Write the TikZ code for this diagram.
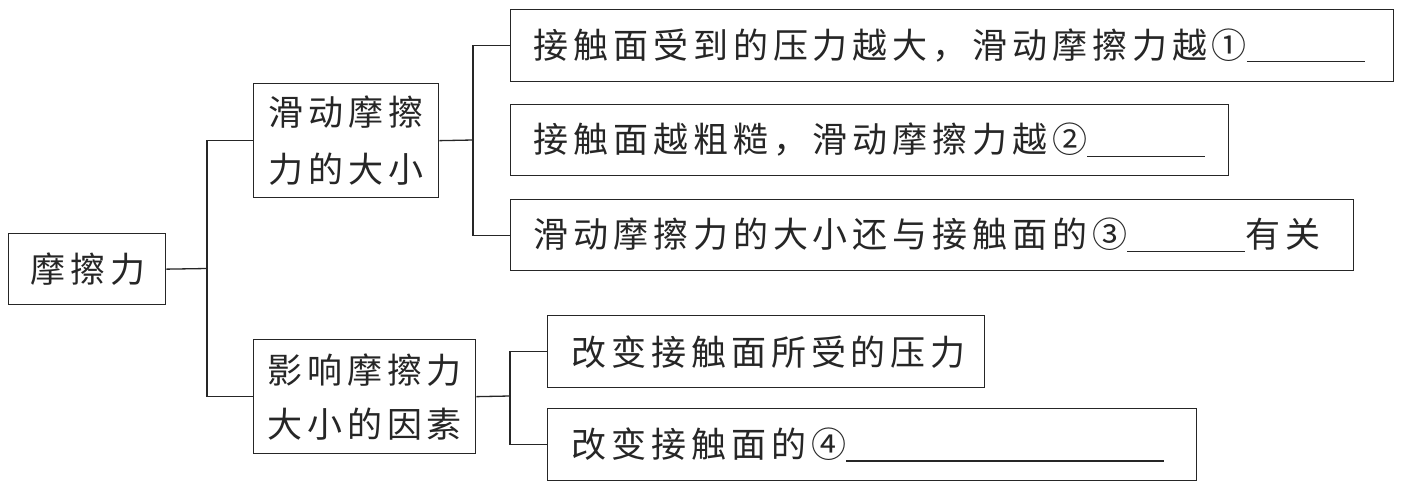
\documentclass[tikz,border=0pt]{standalone}
\usepackage{fontspec}
\newfontfamily\cjk{Noto Sans CJK SC}[LetterSpace=14]
\definecolor{ink}{HTML}{262626}
\begin{document}
\begin{tikzpicture}[x=1pt,y=1pt,
  box/.style={draw=ink, line width=1.3pt, text=ink, inner xsep=0pt, inner ysep=0pt, anchor=north west},
  leaf/.style={box, align=left, font=\cjk\fontsize{35}{40}\selectfont},
  midbox/.style={box, align=center},
  link/.style={draw=ink, line width=1.3pt}]
\useasboundingbox (0,0) rectangle (1427,-488);
\fill[white] (0,0) rectangle (1427,-488);
% root
\node[midbox, minimum width=157, minimum height=71, font=\cjk\fontsize{35}{40}\selectfont] (root) at (8,-233) {\hspace*{2pt}摩擦力};
% level 1
\node[midbox, minimum width=185, minimum height=114, font=\cjk\fontsize{35}{57}\selectfont] (A) at (253,-83) {滑动摩擦\\力的大小};
\node[midbox, minimum width=222, minimum height=114, font=\cjk\fontsize{35}{54}\selectfont] (B) at (253,-339) {影响摩擦力\\大小的因素};
% leaves
\node[leaf, minimum width=883, minimum height=72, text width=863] (r1) at (510,-9)
  {\hspace*{13pt}接触面受到的压力越大，滑动摩擦力越①\rule[-4pt]{118pt}{1.2pt}};
\node[leaf, minimum width=718, minimum height=71, text width=698] (r2) at (510,-104)
  {\hspace*{13pt}接触面越粗糙，滑动摩擦力越②\rule[-4pt]{118pt}{1.2pt}};
\node[leaf, minimum width=843, minimum height=71, text width=823] (r3) at (510,-199)
  {\hspace*{13pt}滑动摩擦力的大小还与接触面的③\rule[-4pt]{118pt}{1.2pt}有关};
\node[leaf, minimum width=437, minimum height=72, text width=417] (r4) at (547,-315)
  {\hspace*{14pt}改变接触面所受的压力};
\node[leaf, minimum width=649, minimum height=72, text width=629] (r5) at (547,-408)
  {\hspace*{14pt}改变接触面的④\rule[-4pt]{318pt}{1.2pt}};
% junctions
\coordinate (j1) at (207,-268.5);
\coordinate (j2) at (473,-140);
\coordinate (j3) at (510,-396);
\draw[link] (root.east) -- (j1);
\draw[link] (A.west) -| (j1) |- (B.west);
\draw[link] (A.east) -- (j2);
\draw[link] (r1.west) -| (j2) |- (r3.west);
\draw[link] (B.east) -- (j3);
\draw[link] (r4.west) -| (j3) |- (r5.west);
\end{tikzpicture}
\end{document}
